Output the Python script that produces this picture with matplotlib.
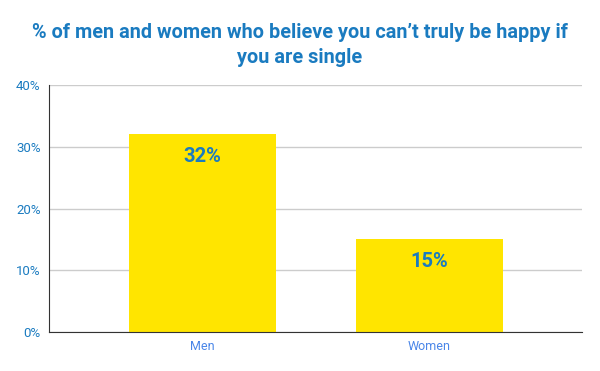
import matplotlib
matplotlib.use("Agg")
import matplotlib.pyplot as plt
from matplotlib.ticker import FuncFormatter

categories = ["Men", "Women"]
values = [32, 15]
yticks = [0, 10, 20, 30, 40]
title = "% of men and women who believe you can’t truly be happy if\nyou are single"

plt.rcParams['font.family'] = ['Roboto', 'DejaVu Sans']

fig = plt.figure(figsize=(6, 3.71), dpi=100)
ax = fig.add_axes([0.0817, 0.1051, 0.8883, 0.6658])

x = list(range(len(categories)))
ax.bar(x, values, width=0.648, color="#ffe500", zorder=2)
for xi, v in zip(x, values):
    ax.text(xi, v - 2.1, f"{v}%", ha="center", va="top", fontsize=14.5,
            fontweight="bold", color="#1a7bc0", zorder=3)

ax.set_xlim(-0.676, 1.672)
ax.set_ylim(0, 40)
ax.set_yticks(yticks)
ax.yaxis.set_major_formatter(FuncFormatter(lambda v, p: f"{int(v)}%"))
ax.set_xticks(x)
ax.set_xticklabels(categories)
ax.tick_params(axis="y", length=0, labelsize=9.5, labelcolor="#1a7bc0", pad=6)
ax.tick_params(axis="x", length=0, labelsize=9, labelcolor="#4a86e8", pad=6)
ax.grid(axis="y", color="#cccccc", linewidth=1, zorder=0)
for s in ["top", "right"]:
    ax.spines[s].set_visible(False)
ax.spines["left"].set_color("#333333")
ax.spines["bottom"].set_color("#333333")
ax.spines["left"].set_zorder(4)
ax.spines["bottom"].set_zorder(4)

fig.text(0.5, 0.878, title, ha="center", va="center", fontsize=14.3,
         fontweight="bold", color="#1a7bc0", linespacing=1.42)

fig.savefig("out.png", dpi=100)
